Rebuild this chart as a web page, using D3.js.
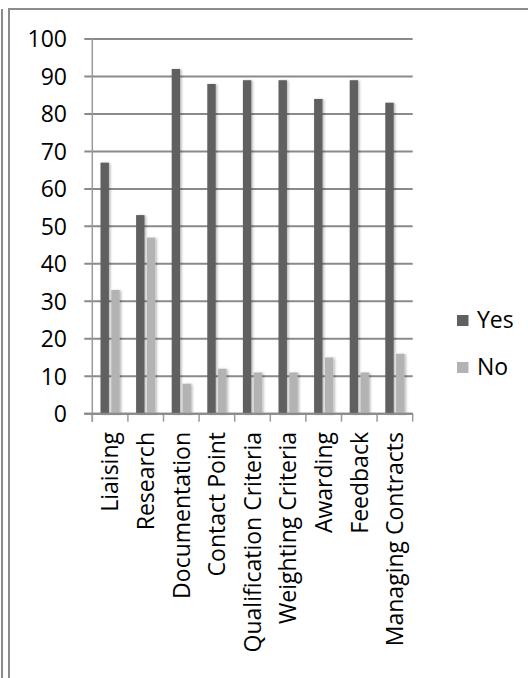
<!DOCTYPE html>
<html>
<head>
<meta charset="utf-8">
<script src="https://cdn.jsdelivr.net/npm/d3@7"></script>
<style>
  html, body { margin: 0; padding: 0; background: #fff; }
  svg { display: block; }
  text { font-family: "Open Sans", "Noto Sans", sans-serif; fill: #000; }
</style>
</head>
<body>
<svg id="chart" width="528" height="678"></svg>
<script>
// Survey responses per procurement activity (percent)
const categories = ["Liaising", "Research", "Documentation", "Contact Point",
  "Qualification Criteria", "Weighting Criteria", "Awarding", "Feedback", "Managing Contracts"];
const seriesNames = ["Yes", "No"];
const yesValues = [67, 53, 92, 88, 89, 89, 84, 89, 83];
const noValues = [33, 47, 8, 12, 11, 11, 15, 11, 16];
const yTicks = [0, 10, 20, 30, 40, 50, 60, 70, 80, 90, 100];
const colors = { Yes: "#606060", No: "#b3b3b3" };

const rows = categories.map((c, i) => ({ category: c, Yes: yesValues[i], No: noValues[i] }));

const svg = d3.select("#chart");

// drop shadow used on the columns
const defs = svg.append("defs");
const f = defs.append("filter").attr("id", "shadow")
  .attr("x", "-50%").attr("y", "-10%").attr("width", "200%").attr("height", "120%");
f.append("feDropShadow").attr("dx", 1.5).attr("dy", 0.5).attr("stdDeviation", 1.2)
  .attr("flood-color", "#000").attr("flood-opacity", 0.28);

// outer frame
const frame = "#8c8c8c";
svg.append("line").attr("x1", 2).attr("x2", 2).attr("y1", 9).attr("y2", 678)
  .attr("stroke", frame).attr("stroke-width", 2);
svg.append("line").attr("x1", 9).attr("x2", 9).attr("y1", 9).attr("y2", 678)
  .attr("stroke", frame).attr("stroke-width", 2);
svg.append("line").attr("x1", 8).attr("x2", 528).attr("y1", 9).attr("y2", 9)
  .attr("stroke", frame).attr("stroke-width", 2);

const plot = { left: 92.3, right: 412.7, top: 39, bottom: 413.7 };

const x0 = d3.scaleBand().domain(categories).range([plot.left, plot.right]).padding(0);
const x1 = d3.scaleBand().domain(seriesNames).range([0, x0.bandwidth()])
  .paddingInner(0.22).paddingOuter(0.76);
const y = d3.scaleLinear().domain([0, 100]).range([plot.bottom, plot.top]);

const gridColor = "#8a8a8a";

// horizontal gridlines with left tick stubs
svg.append("g").selectAll("line").data(yTicks).join("line")
  .attr("x1", plot.left - 8).attr("x2", plot.right)
  .attr("y1", d => y(d)).attr("y2", d => y(d))
  .attr("stroke", gridColor).attr("stroke-width", 2);

// y tick labels
svg.append("g").selectAll("text").data(yTicks).join("text")
  .attr("x", 67).attr("y", d => y(d)).attr("dy", "0.36em")
  .attr("text-anchor", "end").attr("font-size", 23)
  .text(d => d);

// vertical axis line
svg.append("line").attr("x1", plot.left).attr("x2", plot.left)
  .attr("y1", plot.top).attr("y2", plot.bottom + 8)
  .attr("stroke", "#9a9a9a").attr("stroke-width", 1.5);

// bottom ticks at category boundaries
const boundaries = categories.map(c => x0(c)).concat([plot.right]);
svg.append("g").selectAll("line").data(boundaries).join("line")
  .attr("x1", d => d).attr("x2", d => d)
  .attr("y1", plot.bottom).attr("y2", plot.bottom + 8)
  .attr("stroke", "#9a9a9a").attr("stroke-width", 1.5);

// columns
const groups = svg.append("g").selectAll("g").data(rows).join("g")
  .attr("transform", d => `translate(${x0(d.category)},0)`);
groups.selectAll("rect")
  .data(d => seriesNames.map(k => ({ key: k, value: d[k] })))
  .join("rect")
  .attr("x", d => x1(d.key))
  .attr("width", x1.bandwidth())
  .attr("y", d => y(d.value))
  .attr("height", d => y(0) - y(d.value))
  .attr("fill", d => colors[d.key])
  .attr("filter", "url(#shadow)");

// baseline drawn above the columns
svg.append("line").attr("x1", plot.left - 8).attr("x2", plot.right)
  .attr("y1", plot.bottom).attr("y2", plot.bottom)
  .attr("stroke", gridColor).attr("stroke-width", 2);

// rotated category labels
svg.append("g").selectAll("text").data(categories).join("text")
  .attr("transform", d => `translate(${x0(d) + x0.bandwidth() / 2},432) rotate(-90)`)
  .attr("dy", "0.36em")
  .attr("text-anchor", "end").attr("font-size", 23)
  .text(d => d);

// legend
const legend = svg.append("g").selectAll("g").data(seriesNames).join("g")
  .attr("transform", (d, i) => `translate(457,${315 + i * 47})`);
legend.append("rect").attr("width", 11.5).attr("height", 11)
  .attr("fill", d => colors[d]);
legend.append("text").attr("x", 20).attr("y", 12.7)
  .attr("font-size", 23).text(d => d);
</script>
</body>
</html>
